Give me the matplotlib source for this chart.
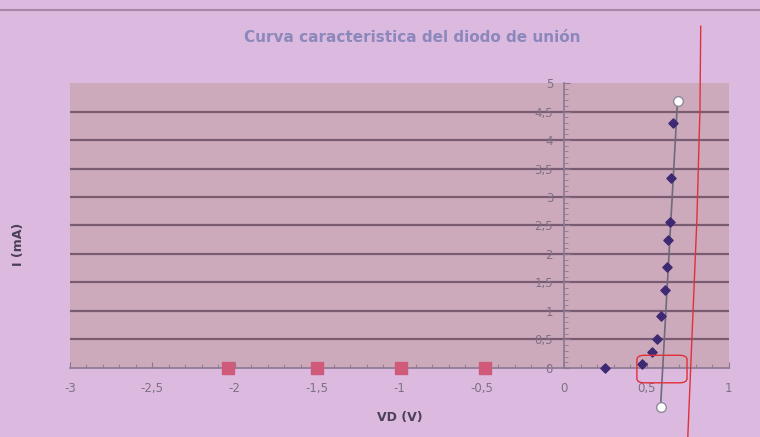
import numpy as np
import matplotlib.pyplot as plt
from matplotlib.ticker import MultipleLocator, FuncFormatter
from matplotlib.patches import FancyBboxPatch
from matplotlib.lines import Line2D

# forward bias measurements (blue diamonds)
vd_fwd = [0.25, 0.475, 0.534, 0.563, 0.589, 0.613, 0.627, 0.633, 0.640, 0.650, 0.663]
i_fwd = [0.0, 0.07, 0.28, 0.51, 0.91, 1.37, 1.78, 2.24, 2.56, 3.33, 4.29]

# reverse bias measurements (red squares)
vd_rev = [-2.04, -1.5, -0.99, -0.48]
i_rev = [0.0, 0.0, 0.0, 0.0]

# trend line with open circle ends
vd_fit = [0.585, 0.688]
i_fit = [-0.68, 4.69]

fig_bg = '#dcb9df'
plot_bg = '#cdaabb'
grid_c = '#7a5c72'
tick_c = '#7c7284'

fig = plt.figure(figsize=(7.6, 4.37), dpi=100)
fig.patch.set_facecolor(fig_bg)
ax = fig.add_axes([0.0921, 0.158, 0.867, 0.652])
ax.set_facecolor(plot_bg)

ax.set_xlim(-3, 1)
ax.set_ylim(0, 5)

for s in ['top', 'right']:
    ax.spines[s].set_visible(False)
ax.spines['left'].set_position(('data', 0))
ax.spines['bottom'].set_position(('data', 0))
ax.spines['left'].set_color('#8a7890')
ax.spines['bottom'].set_color('#8a7890')
ax.spines['left'].set_linewidth(1.2)
ax.spines['bottom'].set_linewidth(1.2)

ax.xaxis.set_major_locator(MultipleLocator(0.5))
ax.xaxis.set_minor_locator(MultipleLocator(0.1))
ax.yaxis.set_major_locator(MultipleLocator(0.5))
ax.yaxis.set_minor_locator(MultipleLocator(0.1))
fmt = FuncFormatter(lambda v, p: ('%g' % round(v, 2)).replace('.', ','))
ax.xaxis.set_major_formatter(fmt)
ax.yaxis.set_major_formatter(fmt)
ax.tick_params(axis='both', which='both', direction='in', colors='#8a7890',
               labelcolor=tick_c, labelsize=8.5)
ax.tick_params(axis='both', which='major', length=4)
ax.tick_params(axis='both', which='minor', length=3)
ax.tick_params(axis='x', pad=10)
ax.tick_params(axis='y', pad=8)

# horizontal grid, none at the top edge or on the x axis
ax.hlines(np.arange(0.5, 5, 0.5), -3, 1, color=grid_c, linewidth=1.6, zorder=1)

ax.plot(vd_fit, i_fit, color='#6e6a7c', linewidth=1.2, marker='o', markersize=7,
        markerfacecolor='white', markeredgecolor='#8e8a9a', clip_on=False, zorder=3)
ax.scatter(vd_fwd, i_fwd, marker='D', s=22, color='#3d2a72', zorder=4, clip_on=False)
ax.scatter(vd_rev, i_rev, marker='s', s=70, color='#cf5a7a', zorder=4, clip_on=False)

ax.set_xlabel('VD (V)', fontsize=9, fontweight='bold', color='#4a4058', labelpad=4)
ax.xaxis.set_label_coords(0.5, -0.15)
fig.text(0.024, 0.44, 'I (mA)', rotation=90, fontsize=9, fontweight='bold',
         color='#4a4058', ha='center', va='center')
fig.text(0.543, 0.915, 'Curva caracteristica del diodo de unión', fontsize=11,
         fontweight='bold', color='#8c88bc', ha='center', va='center')

# frame line at top of the screenshot
fig.add_artist(Line2D([0, 1], [0.977, 0.977], color='#a386a8', linewidth=1.5))

# red hand drawn marks
fig.add_artist(Line2D([0.922, 0.921, 0.917, 0.911, 0.905], [0.94, 0.75, 0.5, 0.25, 0.0],
                      color='#e0303a', linewidth=1.0))
fig.add_artist(FancyBboxPatch((0.842, 0.128), 0.058, 0.055,
                              boxstyle='round,pad=0.004,rounding_size=0.01',
                              transform=fig.transFigure, fill=False,
                              edgecolor='#e0303a', linewidth=1.0))

fig.savefig('out.png', dpi=100, facecolor=fig_bg)
